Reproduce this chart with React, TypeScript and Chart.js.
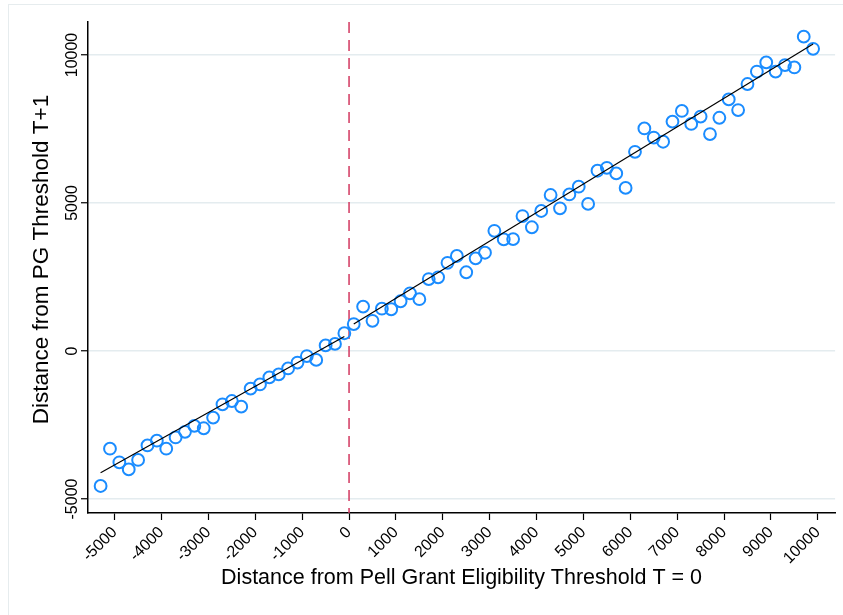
import React, { useEffect, useRef } from 'react';
import { Chart, registerables } from 'chart.js';

Chart.register(...registerables);

// Binned scatter data (bin midpoints, mean outcome)
const leftX = [-5300, -5100, -4900, -4700, -4500, -4300, -4100, -3900, -3700, -3500, -3300, -3100, -2900, -2700, -2500, -2300, -2100, -1900, -1700, -1500, -1300, -1100, -900, -700, -500, -300, -100];
const leftY = [-4560, -3300, -3760, -4000, -3680, -3190, -3030, -3300, -2920, -2730, -2530, -2610, -2250, -1800, -1690, -1880, -1270, -1130, -890, -790, -590, -390, -170, -300, 190, 240, 600];
const rightX = [100, 300, 500, 700, 900, 1100, 1300, 1500, 1700, 1900, 2100, 2300, 2500, 2700, 2900, 3100, 3300, 3500, 3700, 3900, 4100, 4300, 4500, 4700, 4900, 5100, 5300, 5500, 5700, 5900, 6100, 6300, 6500, 6700, 6900, 7100, 7300, 7500, 7700, 7900, 8100, 8300, 8500, 8700, 8900, 9100, 9300, 9500, 9700, 9900];
const rightY = [910, 1500, 1020, 1430, 1410, 1680, 1950, 1750, 2430, 2490, 2980, 3210, 2660, 3130, 3320, 4060, 3770, 3780, 4560, 4180, 4730, 5270, 4820, 5290, 5550, 4970, 6090, 6190, 6000, 5510, 6730, 7520, 7210, 7070, 7750, 8110, 7670, 7920, 7330, 7880, 8500, 8140, 9020, 9440, 9750, 9440, 9660, 9580, 10620, 10210];

// Linear fits on each side of the threshold
const fitLeftX = [-5300, -100];
const fitLeftY = [-4110, 490];
const fitRightX = [100, 9900];
const fitRightY = [910, 10370];

const xTicks = [-5000, -4000, -3000, -2000, -1000, 0, 1000, 2000, 3000, 4000, 5000, 6000, 7000, 8000, 9000, 10000];
const yTicks = [-5000, 0, 5000, 10000];
const thresholdX = 0;

const xTitle = 'Distance from Pell Grant Eligibility Threshold T = 0';
const yTitle = 'Distance from PG Threshold T+1';

const FONT = '"Liberation Sans", Arial, Helvetica, sans-serif';
const BLUE = '#1a8cff';
const RED = '#d2385f';
const GRID = '#e4ecef';

const zip = (xs: number[], ys: number[]) => xs.map((x, i) => ({ x, y: ys[i] }));

export default function App() {
  const ref = useRef<HTMLCanvasElement | null>(null);

  useEffect(() => {
    if (!ref.current) return;
    Chart.defaults.font.family = FONT;

    const vline = {
      id: 'vline',
      beforeDatasetsDraw(chart: any) {
        const { ctx, chartArea, scales } = chart;
        const px = scales.x.getPixelForValue(thresholdX);
        ctx.save();
        ctx.strokeStyle = RED;
        ctx.lineWidth = 1.5;
        ctx.setLineDash([11, 7]);
        ctx.beginPath();
        ctx.moveTo(px, chartArea.top);
        ctx.lineTo(px, chartArea.bottom);
        ctx.stroke();
        ctx.restore();
      },
    };

    const yLabels = {
      id: 'yLabels',
      afterDraw(chart: any) {
        const { ctx, scales } = chart;
        const ys = scales.y;
        ctx.save();
        ctx.fillStyle = '#000';
        ctx.textAlign = 'center';
        ctx.textBaseline = 'middle';
        ctx.font = `16px ${FONT}`;
        yTicks.forEach((v) => {
          const py = ys.getPixelForValue(v);
          ctx.save();
          ctx.translate(ys.right - 15, py);
          ctx.rotate(-Math.PI / 2);
          ctx.fillText(String(v), 0, 0);
          ctx.restore();
        });
        // axis title
        ctx.font = `22.5px ${FONT}`;
        ctx.save();
        ctx.translate(ys.left + 42, (ys.top + ys.bottom) / 2 - 8);
        ctx.rotate(-Math.PI / 2);
        ctx.fillText(yTitle, 0, 0);
        ctx.restore();
        ctx.restore();
      },
    };

    const chart = new Chart(ref.current, {
      type: 'scatter',
      data: {
        datasets: [
          {
            type: 'line',
            data: zip(fitLeftX, fitLeftY),
            borderColor: '#000',
            borderWidth: 1.2,
            pointRadius: 0,
            fill: false,
            order: 0,
          },
          {
            type: 'line',
            data: zip(fitRightX, fitRightY),
            borderColor: '#000',
            borderWidth: 1.2,
            pointRadius: 0,
            fill: false,
            order: 0,
          },
          {
            type: 'scatter',
            data: [...zip(leftX, leftY), ...zip(rightX, rightY)],
            borderColor: BLUE,
            backgroundColor: 'rgba(0,0,0,0)',
            borderWidth: 2,
            pointRadius: 5.9,
            order: 1,
          },
        ],
      } as any,
      options: {
        animation: false,
        responsive: false,
        maintainAspectRatio: false,
        devicePixelRatio: 1,
        layout: { padding: { left: 0, top: 22, right: 3, bottom: 0 } },
        plugins: { legend: { display: false }, tooltip: { enabled: false } },
        scales: {
          x: {
            type: 'linear',
            min: -5569,
            max: 10369,
            afterBuildTicks: (s: any) => {
              s.ticks = xTicks.map((v) => ({ value: v }));
            },
            afterFit: (s: any) => {
              s.height = 102;
            },
            ticks: {
              color: '#000',
              font: { size: 16, family: FONT },
              minRotation: 45,
              maxRotation: 45,
              autoSkip: false,
              padding: 3,
              callback: (v: any) => String(v),
            },
            grid: {
              drawOnChartArea: false,
              drawTicks: true,
              tickLength: 7,
              tickColor: '#000',
              tickWidth: 1.2,
            },
            border: { color: '#000', width: 1.5 },
            title: {
              display: true,
              text: xTitle,
              color: '#000',
              font: { size: 21.5, family: FONT },
              padding: { top: 0, bottom: 24 },
            },
          },
          y: {
            type: 'linear',
            min: -5473,
            max: 11115,
            afterBuildTicks: (s: any) => {
              s.ticks = yTicks.map((v) => ({ value: v }));
            },
            afterFit: (s: any) => {
              s.width = 88;
            },
            ticks: { display: false },
            grid: {
              color: GRID,
              lineWidth: 1.5,
              drawTicks: true,
              tickLength: 7,
              tickColor: '#000',
              tickWidth: 1.2,
            },
            border: { color: '#000', width: 1.5 },
            title: { display: false },
          },
        },
      } as any,
      plugins: [vline, yLabels],
    });

    return () => chart.destroy();
  }, []);

  return (
    <div
      style={{
        position: 'fixed',
        left: 0,
        top: 0,
        width: 843,
        height: 615,
        overflow: 'hidden',
        background: '#fff',
      }}
    >
      <div
        style={{
          position: 'absolute',
          left: 8,
          top: 4,
          width: 900,
          height: 700,
          borderLeft: '1px solid #e6ecee',
          borderTop: '1px solid #e6ecee',
        }}
      />
      <canvas
        ref={ref}
        width={843}
        height={615}
        style={{ position: 'absolute', left: 0, top: 0, width: 843, height: 615 }}
      />
    </div>
  );
}
